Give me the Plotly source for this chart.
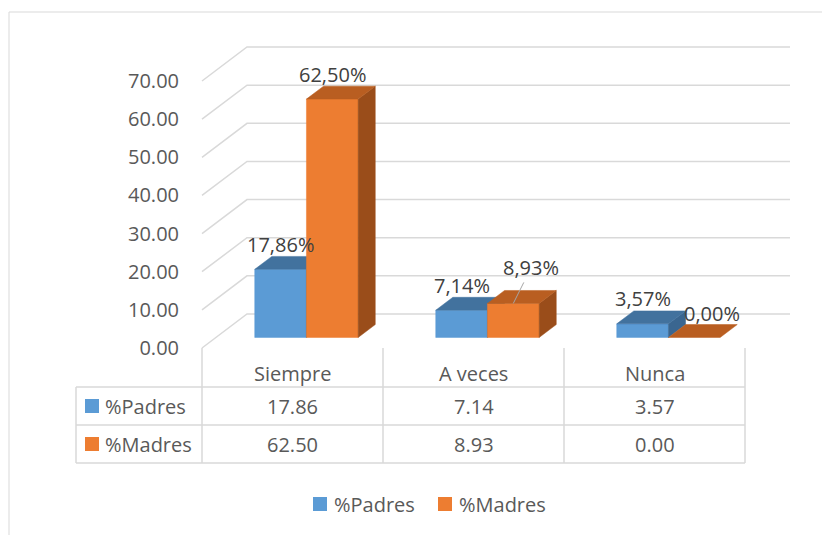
import plotly.graph_objects as go

# --- datos ---
categorias = ['Siempre', 'A veces', 'Nunca']
series = ['%Padres', '%Madres']
padres = [17.86, 7.14, 3.57]
madres = [62.50, 8.93, 0.00]
etiquetas_padres = ['17,86%', '7,14%', '3,57%']
etiquetas_madres = ['62,50%', '8,93%', '0,00%']
ticks_y = [0, 10, 20, 30, 40, 50, 60, 70]

W, H = 830, 535
OFF = 8                      # margen del body de la pagina
FONT = 'Open Sans'
GRIS = '#595959'
LINEA = '#D9D9D9'

# escala: 1 categoria = 181 px, 1 unidad = 3.814 px, origen frontal en (202, 348)
X0, CAT, Y0, PXU = 202, 181, 348, 3.814

def ux(px):
    return (px - X0) / CAT

def vy(py):
    return (Y0 - py) / PXU

def pxp(px):
    return (px - OFF) / W

def pyp(py):
    return 1 - (py - OFF) / H

# profundidad 3D (pared del fondo)
DXU = 45 / CAT
DYV = 34 / PXU
F0, F1 = 0.31, 0.69          # cara frontal / trasera de las columnas
BW = 1 / 3.5                 # ancho de columna (gap 150%)

colores = {
    '%Padres': dict(front='#5B9BD5', top='#42729E', side='#3A6690'),
    '%Madres': dict(front='#ED7D31', top='#B95E21', side='#9A4D1A'),
}

fig = go.Figure()

# rejilla en perspectiva
gx, gy = [], []
for t in ticks_y:
    gx += [0, DXU, 3 + DXU, None]
    gy += [t, t + DYV, t + DYV, None]
fig.add_trace(go.Scatter(x=gx, y=gy, mode='lines', line=dict(color=LINEA, width=1.5),
                         hoverinfo='skip', showlegend=False))


def cara(xs, ys, color):
    fig.add_trace(go.Scatter(x=xs + [xs[0]], y=ys + [ys[0]], mode='lines', fill='toself',
                             fillcolor=color, line=dict(width=0.5, color=color),
                             hoverinfo='skip', showlegend=False))


valores = {'%Padres': padres, '%Madres': madres}
etiquetas = {'%Padres': etiquetas_padres, '%Madres': etiquetas_madres}
for i, cat in enumerate(categorias):
    for j, s in enumerate(series):
        v = valores[s][i]
        c = colores[s]
        xl = i + 0.75 * BW + j * BW
        xr = xl + BW
        a, b = F0 * DXU, F0 * DYV
        cc, d = F1 * DXU, F1 * DYV
        if v > 0:
            cara([xl + a, xr + a, xr + a, xl + a], [b, b, v + b, v + b], c['front'])
            cara([xr + a, xr + cc, xr + cc, xr + a], [b, d, v + d, v + b], c['side'])
        cara([xl + a, xr + a, xr + cc, xl + cc], [v + b, v + b, v + d, v + d], c['top'])

        # etiqueta de datos
        xm = (xl + xr) / 2 + a
        lab = etiquetas[s][i]
        if lab == '8,93%':
            fig.add_annotation(x=xm, y=v + b, text=lab, showarrow=True, arrowhead=0,
                               arrowcolor='#A6A6A6', arrowwidth=1, ax=18, ay=-36,
                               font=dict(family=FONT, size=20, color='#404040'))
        elif lab == '0,00%':
            fig.add_annotation(x=xm, y=v + b, text=lab, showarrow=False, xshift=18, yshift=24,
                               font=dict(family=FONT, size=20, color='#404040'))
        else:
            fig.add_annotation(x=xm, y=v + b, text=lab, showarrow=False, yshift=25,
                               font=dict(family=FONT, size=20, color='#404040'))

# tabla de datos
lineas = []
for py in [387, 425, 463]:
    lineas.append(dict(x0=ux(76), x1=3, y0=vy(py), y1=vy(py)))
for k in range(4):
    lineas.append(dict(x0=k, x1=k, y0=0, y1=vy(463)))
lineas.append(dict(x0=ux(76), x1=ux(76), y0=vy(387), y1=vy(463)))
for ln in lineas:
    fig.add_shape(type='line', xref='x', yref='y', line=dict(color=LINEA, width=1.5), **ln)

for i, cat in enumerate(categorias):
    fig.add_annotation(x=i + 0.5, y=vy(373), text=cat, showarrow=False,
                       font=dict(family=FONT, size=20, color=GRIS))
    fig.add_annotation(x=i + 0.5, y=vy(406), text=f'{padres[i]:.2f}', showarrow=False,
                       font=dict(family=FONT, size=20, color=GRIS))
    fig.add_annotation(x=i + 0.5, y=vy(444), text=f'{madres[i]:.2f}', showarrow=False,
                       font=dict(family=FONT, size=20, color=GRIS))

for s, py in zip(series, [406, 444]):
    fig.add_shape(type='rect', xref='x', yref='y', x0=ux(85), x1=ux(99),
                  y0=vy(py - 7), y1=vy(py + 7), fillcolor=colores[s]['front'], line=dict(width=0))
    fig.add_annotation(x=ux(103), y=vy(py), text=s, showarrow=False, xanchor='left',
                       font=dict(family=FONT, size=20, color=GRIS))

# leyenda
for s, px in zip(series, [313, 438]):
    fig.add_shape(type='rect', xref='paper', yref='paper', x0=pxp(px), x1=pxp(px + 14),
                  y0=pyp(511), y1=pyp(497), fillcolor=colores[s]['front'], line=dict(width=0))
    fig.add_annotation(xref='paper', yref='paper', x=pxp(px + 19), y=pyp(504), text=s,
                       showarrow=False, xanchor='left', yanchor='middle',
                       font=dict(family=FONT, size=20, color=GRIS))

# borde del grafico
fig.add_shape(type='line', xref='paper', yref='paper', x0=pxp(9), x1=1, y0=pyp(12), y1=pyp(12),
              line=dict(color=LINEA, width=1))
fig.add_shape(type='line', xref='paper', yref='paper', x0=pxp(9), x1=pxp(9), y0=pyp(12), y1=0,
              line=dict(color=LINEA, width=1))

fig.update_layout(
    width=W, height=H,
    margin=dict(l=0, r=0, t=0, b=0),
    paper_bgcolor='white', plot_bgcolor='white',
    showlegend=False,
    xaxis=dict(range=[ux(OFF), ux(W + OFF)], visible=False, fixedrange=True),
    yaxis=dict(range=[vy(H + OFF), vy(OFF)], tickvals=ticks_y, ticktext=[f'{t:.2f}' for t in ticks_y],
               anchor='free', position=pxp(179), showgrid=False, zeroline=False, showline=False,
               ticks='', automargin=False, fixedrange=True,
               tickfont=dict(family=FONT, size=20, color=GRIS)),
)

fig.write_html('out.html')
